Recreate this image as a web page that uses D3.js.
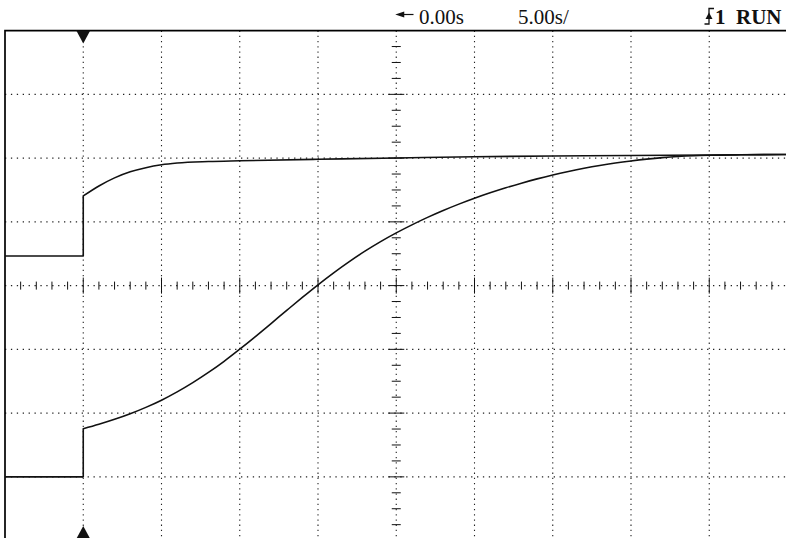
<!DOCTYPE html>
<html>
<head>
<meta charset="utf-8">
<script src="https://cdn.jsdelivr.net/npm/d3@7"></script>
<style>
  html, body { margin: 0; padding: 0; background: #fff; }
  svg { display: block; }
</style>
</head>
<body>
<svg id="scope" width="786" height="538"></svg>
<script>
// Scope screen: 5 s/div horizontally, 8 divisions vertically
const timeDomain = [-25, 25];
const voltDomain = [-4, 4];
const timeGrid = [-20, -15, -10, -5, 0, 5, 10, 15, 20];
const voltGrid = [-3, -2, -1, 0, 1, 2, 3];
const trigTime = -20;

const offsetLabel = '0.00s';
const scaleLabel = '5.00s/';
const channelLabel = '1';
const statusLabel = 'RUN';

// Channel traces [time s, divisions]; first three points are the step
const upperTrace = [
  [-25, 0.465], [-20, 0.465], [-20, 1.406], [-19, 1.563], [-18, 1.690], [-17, 1.785],
  [-16, 1.850], [-15, 1.895], [-14, 1.922], [-12, 1.946], [-10, 1.958], [-5, 1.981],
  [0, 2.002], [5, 2.022], [10, 2.033], [15, 2.041], [20, 2.049], [25, 2.056]
];
const lowerTrace = [
  [-25, -3.0], [-20, -3.0], [-20, -2.246], [-19, -2.176], [-18, -2.098], [-17, -2.010],
  [-16, -1.910], [-15, -1.797], [-14, -1.667], [-13, -1.522], [-12, -1.362], [-11, -1.187],
  [-10, -0.997], [-9, -0.799], [-8, -0.595], [-7, -0.389], [-6, -0.185], [-5, 0.013],
  [-4, 0.201], [-3, 0.377], [-2, 0.540], [-1, 0.690], [0, 0.827], [1, 0.953],
  [2, 1.070], [3, 1.178], [4, 1.278], [5, 1.370], [6, 1.455], [7, 1.534],
  [8, 1.607], [9, 1.674], [10, 1.735], [11, 1.790], [12, 1.840], [13, 1.884],
  [14, 1.922], [15, 1.955], [16, 1.984], [17, 2.008], [18, 2.026], [19, 2.038],
  [20, 2.045], [22, 2.052], [25, 2.056]
];

const svg = d3.select('#scope');
const x = d3.scaleLinear().domain(timeDomain).range([5, 787.5]);
const y = d3.scaleLinear().domain(voltDomain).range([540.6, 30.6]);

const serif = '"Liberation Serif", "Times New Roman", serif';
const gridColor = '#222';

// Dotted grid
const grid = svg.append('g').attr('class', 'grid');
grid.selectAll('.vgrid').data(timeGrid).join('line')
  .attr('x1', d => x(d)).attr('x2', d => x(d))
  .attr('y1', y(4)).attr('y2', 538)
  .attr('stroke', gridColor).attr('stroke-width', 1.1)
  .attr('stroke-dasharray', '1.3,3.9');
grid.selectAll('.hgrid').data(voltGrid).join('line')
  .attr('x1', x(-25)).attr('x2', 786)
  .attr('y1', d => y(d)).attr('y2', d => y(d))
  .attr('stroke', gridColor).attr('stroke-width', 1.1)
  .attr('stroke-dasharray', '1.3,4.6');

// Center axis ticks
const ticks = svg.append('g').attr('class', 'ticks');
const hTicks = d3.range(-24, 25, 1);
ticks.selectAll('.ht').data(hTicks).join('line')
  .attr('x1', d => x(d)).attr('x2', d => x(d))
  .attr('y1', d => y(0) - (d % 5 === 0 ? 8 : 4))
  .attr('y2', d => y(0) + (d % 5 === 0 ? 8 : 4))
  .attr('stroke', '#111').attr('stroke-width', 1);
const vTicks = d3.range(-16, 16, 1).map(i => i / 4);
ticks.selectAll('.vt').data(vTicks).join('line')
  .attr('x1', d => x(0) - (Number.isInteger(d) ? 8 : 4.5))
  .attr('x2', d => x(0) + (Number.isInteger(d) ? 8 : 4.5))
  .attr('y1', d => y(d)).attr('y2', d => y(d))
  .attr('stroke', '#111').attr('stroke-width', 1);

// Screen frame (top and left edges are visible)
svg.append('path')
  .attr('d', `M${x(-25)},538 V${y(4)} H786`)
  .attr('fill', 'none').attr('stroke', '#000').attr('stroke-width', 1.7);

// Traces: straight step, then smooth response
const stepLine = d3.line().x(d => x(d[0])).y(d => y(d[1]));
const smoothLine = d3.line().x(d => x(d[0])).y(d => y(d[1])).curve(d3.curveMonotoneX);
[upperTrace, lowerTrace].forEach(tr => {
  const d = stepLine(tr.slice(0, 3)) + smoothLine(tr.slice(2)).replace(/^M/, 'L');
  svg.append('path')
    .attr('d', d)
    .attr('fill', 'none').attr('stroke', '#111')
    .attr('stroke-width', 1.6).attr('stroke-linejoin', 'round');
});

// Trigger position markers
const tx = x(trigTime);
svg.append('path')
  .attr('d', `M${tx - 7},${y(4)} L${tx + 7},${y(4)} L${tx},${y(4) + 13} Z`)
  .attr('fill', '#111');
svg.append('path')
  .attr('d', `M${tx - 6.5},538 L${tx + 6.5},538 L${tx},526 Z`)
  .attr('fill', '#111');

// Header readouts
const header = svg.append('g').attr('font-family', serif).attr('font-size', 21).attr('fill', '#111');
header.append('path')
  .attr('d', `M${x(0) + 3},14.5 H413.5`)
  .attr('stroke', '#111').attr('stroke-width', 1.2);
header.append('path')
  .attr('d', `M${x(0) - 1},14.5 L${x(0) + 8},11.5 L${x(0) + 8},17.5 Z`)
  .attr('fill', '#111');
header.append('text').attr('x', 419).attr('y', 24).text(offsetLabel);
header.append('text').attr('x', 518).attr('y', 24).text(scaleLabel);

// Trigger edge icon
header.append('path')
  .attr('d', 'M704.5,24 H709 V8.5 H714')
  .attr('fill', 'none').attr('stroke', '#111').attr('stroke-width', 1.3);
header.append('path')
  .attr('d', 'M705.5,19 L712.5,19 L709,12.5 Z')
  .attr('fill', '#111');
header.append('text').attr('x', 715).attr('y', 24).attr('font-weight', 700).text(channelLabel);
header.append('text').attr('x', 736).attr('y', 24).attr('font-weight', 700).text(statusLabel);
</script>
</body>
</html>
